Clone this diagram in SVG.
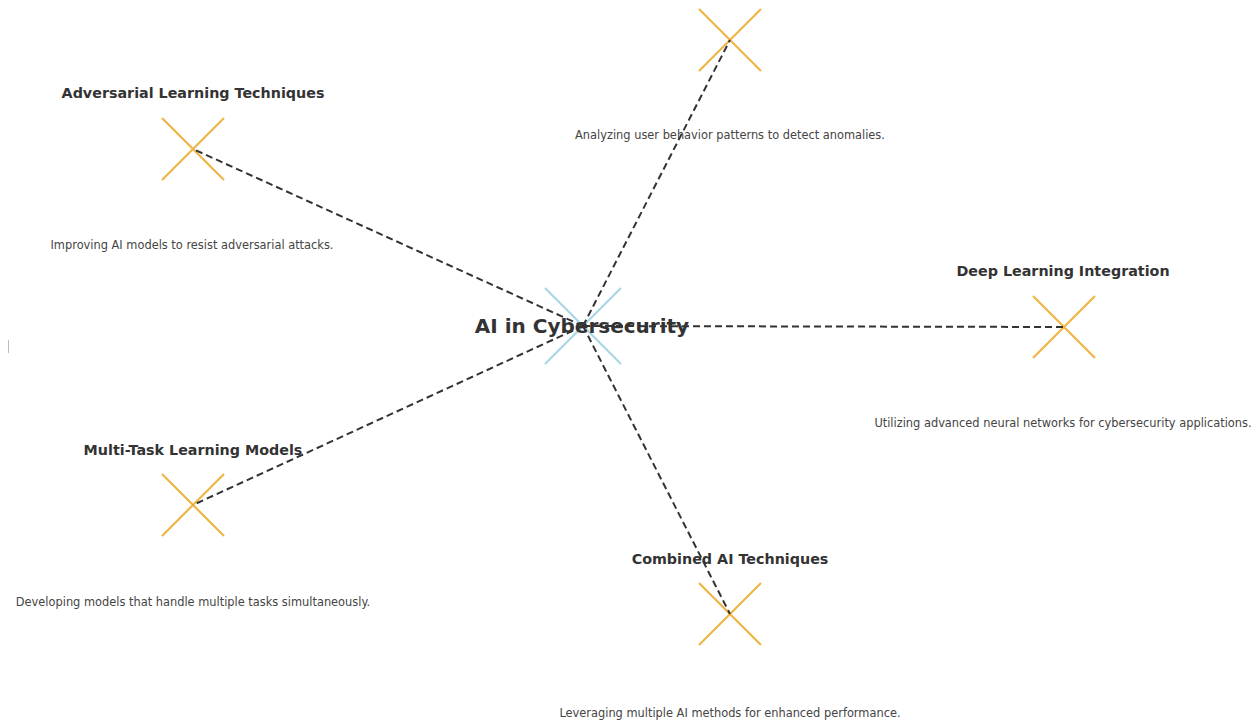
<svg xmlns="http://www.w3.org/2000/svg" width="1260" height="720" viewBox="0 0 1260 720">
  <style>
    .bg { fill: #ffffff; }
    .link { stroke: #333333; stroke-width: 2; stroke-dasharray: 7 4; fill: none; }
    .mark { stroke: #f0b646; stroke-width: 2.2; stroke-linecap: butt; }
    .mark-hub { stroke: #a9d6e5; stroke-width: 2.2; }
    .title { font-family: "DejaVu Sans", sans-serif; font-weight: bold; font-size: 14.3px; fill: #333333; text-anchor: middle; }
    .hub-title { font-family: "DejaVu Sans", sans-serif; font-weight: bold; font-size: 20px; fill: #333333; text-anchor: middle; }
    .desc { font-family: "DejaVu Sans", sans-serif; font-size: 11.4px; fill: #444444; text-anchor: middle; }
  </style>
  <defs>
    <path id="x-small" d="M-31,-31 L31,31 M-31,31 L31,-31"/>
    <path id="x-big" d="M-38,-38 L38,38 M-38,38 L38,-38"/>
  </defs>
  <rect class="bg" x="0" y="0" width="1260" height="720"/>
  <line x1="8.5" y1="340" x2="8.5" y2="353" stroke="#bbbbbb" stroke-width="1"/>

  <!-- node markers -->
  <g id="node-hub"><use href="#x-big" class="mark-hub" x="583" y="326"/></g>
  <g id="node-behavior"><use href="#x-small" class="mark" x="730" y="40"/></g>
  <g id="node-adversarial"><use href="#x-small" class="mark" x="193" y="149"/></g>
  <g id="node-deep"><use href="#x-small" class="mark" x="1064" y="327"/></g>
  <g id="node-multitask"><use href="#x-small" class="mark" x="193" y="505"/></g>
  <g id="node-combined"><use href="#x-small" class="mark" x="730" y="614"/></g>

  <!-- connectors -->
  <g id="connectors">
    <line class="link" x1="583" y1="326" x2="730" y2="40"/>
    <line class="link" x1="583" y1="326" x2="193" y2="149"/>
    <line class="link" x1="583" y1="326" x2="1064" y2="327"/>
    <line class="link" x1="583" y1="326" x2="193" y2="505"/>
    <line class="link" x1="583" y1="326" x2="730" y2="614"/>
  </g>

  <!-- labels -->
  <g id="label-hub"><text class="hub-title" x="582" y="333">AI in Cybersecurity</text></g>
  <g id="label-behavior">
    <text class="desc" x="730" y="139">Analyzing user behavior patterns to detect anomalies.</text>
  </g>
  <g id="label-adversarial">
    <text class="title" x="193" y="98">Adversarial Learning Techniques</text>
    <text class="desc" x="192" y="249">Improving AI models to resist adversarial attacks.</text>
  </g>
  <g id="label-deep">
    <text class="title" x="1063" y="276">Deep Learning Integration</text>
    <text class="desc" x="1063" y="427">Utilizing advanced neural networks for cybersecurity applications.</text>
  </g>
  <g id="label-multitask">
    <text class="title" x="193" y="455">Multi-Task Learning Models</text>
    <text class="desc" x="193" y="606">Developing models that handle multiple tasks simultaneously.</text>
  </g>
  <g id="label-combined">
    <text class="title" x="730" y="564">Combined AI Techniques</text>
    <text class="desc" x="730" y="717">Leveraging multiple AI methods for enhanced performance.</text>
  </g>
</svg>
